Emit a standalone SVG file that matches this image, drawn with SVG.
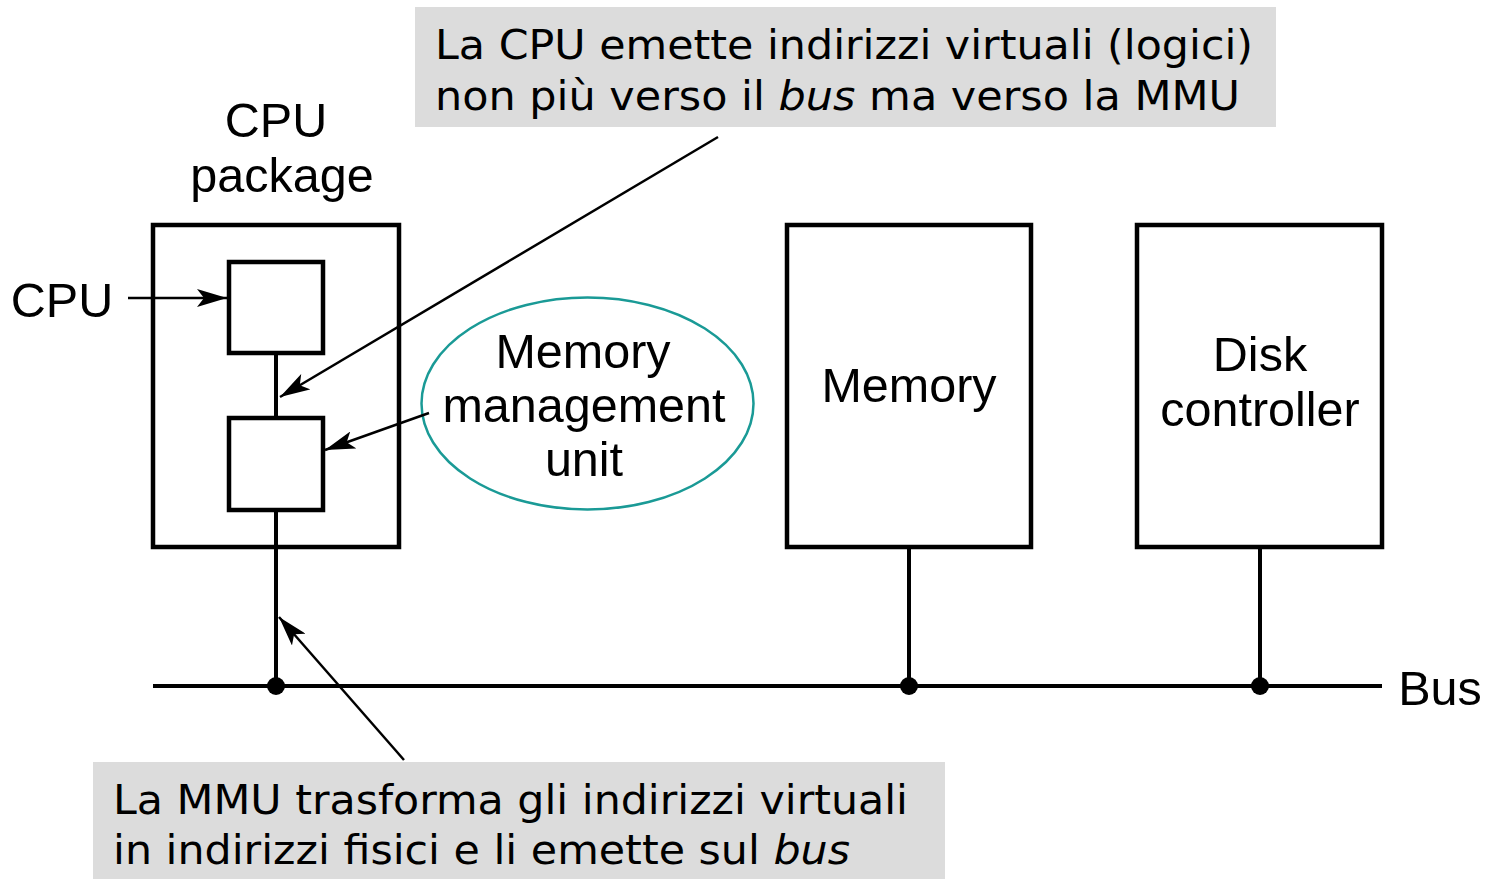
<svg xmlns="http://www.w3.org/2000/svg" width="1487" height="879" viewBox="0 0 1487 879">
<style>
.box{fill:none;stroke:#000;stroke-width:4.5}
.lbl{font-family:"Liberation Sans",Arial,sans-serif;font-size:48.5px;fill:#000;text-anchor:middle}
.note{font-family:"DejaVu Sans",Verdana,sans-serif;font-size:41px;fill:#000}
.wire{stroke:#000;stroke-width:4;fill:none}
.ptr{stroke:#000;stroke-width:2.5;fill:none;marker-end:url(#ah)}
.dot{fill:#000}
</style>
<defs>
<marker id="ah" markerUnits="userSpaceOnUse" markerWidth="32" markerHeight="18" refX="30" refY="9" orient="auto">
<path d="M0,0 L30,9 L0,18 L7,9 Z" fill="#000"/>
</marker>
</defs>
<rect width="1487" height="879" fill="#fff"/>
<g id="note-top">
<rect x="415" y="7" width="861" height="120" fill="#dcdcdc"/>
<text class="note" x="435" y="59" textLength="818" lengthAdjust="spacingAndGlyphs">La CPU emette indirizzi virtuali (logici)</text>
<text class="note" x="435" y="110" textLength="805" lengthAdjust="spacingAndGlyphs">non più verso il <tspan font-style="italic">bus</tspan> ma verso la MMU</text>
</g>
<g id="note-bottom">
<rect x="93" y="762" width="852" height="117" fill="#dcdcdc"/>
<text class="note" x="113" y="814" textLength="795" lengthAdjust="spacingAndGlyphs">La MMU trasforma gli indirizzi virtuali</text>
<text class="note" x="113" y="864" textLength="737" lengthAdjust="spacingAndGlyphs">in indirizzi fisici e li emette sul <tspan font-style="italic">bus</tspan></text>
</g>
<g id="cpu-package">
<rect class="box" x="153" y="225" width="246" height="322"/>
<text class="lbl" x="276" y="137">CPU</text>
<text class="lbl" x="282" y="192">package</text>
</g>
<g id="cpu">
<rect class="box" x="229" y="262" width="94" height="91"/>
<text class="lbl" x="62" y="317">CPU</text>
</g>
<g id="mmu">
<rect class="box" x="229" y="418" width="94" height="92"/>
</g>
<g id="mmu-label">
<ellipse cx="587.5" cy="403.5" rx="166" ry="106" fill="none" stroke="#1a9a96" stroke-width="2.5"/>
<text class="lbl" x="583" y="368">Memory</text>
<text class="lbl" x="584" y="422">management</text>
<text class="lbl" x="584" y="476">unit</text>
</g>
<g id="memory">
<rect class="box" x="787" y="225" width="244" height="322"/>
<text class="lbl" x="909" y="402">Memory</text>
</g>
<g id="disk-controller">
<rect class="box" x="1137" y="225" width="245" height="322"/>
<text class="lbl" x="1260" y="371">Disk</text>
<text class="lbl" x="1260" y="426">controller</text>
</g>
<g id="bus">
<line class="wire" x1="153" y1="686" x2="1382" y2="686"/>
<text class="lbl" x="1440" y="705">Bus</text>
</g>
<g id="connectors">
<line class="wire" x1="276" y1="353" x2="276" y2="418"/>
<line class="wire" x1="276" y1="510" x2="276" y2="686"/>
<line class="wire" x1="909" y1="547" x2="909" y2="686"/>
<line class="wire" x1="1260" y1="547" x2="1260" y2="686"/>
<circle class="dot" cx="276" cy="686" r="9"/>
<circle class="dot" cx="909" cy="686" r="9"/>
<circle class="dot" cx="1260" cy="686" r="9"/>
<line class="ptr" x1="128" y1="298" x2="227" y2="298"/>
<line class="ptr" x1="718" y1="137" x2="280" y2="397"/>
<line class="ptr" x1="429" y1="413" x2="325" y2="450"/>
<line class="ptr" x1="404" y1="760" x2="279" y2="617"/>
</g>
</svg>
